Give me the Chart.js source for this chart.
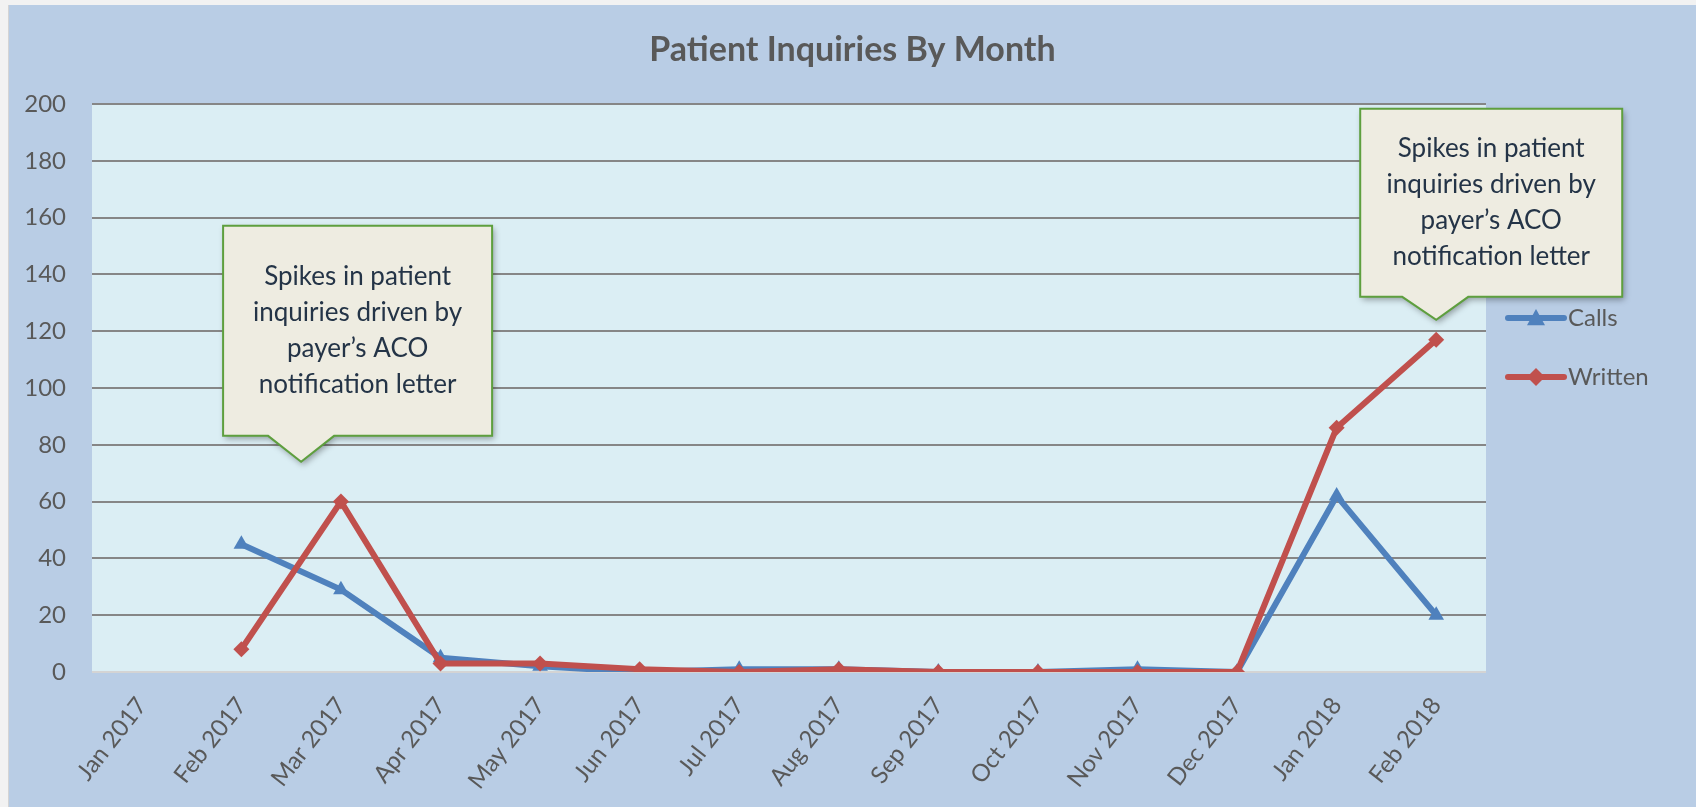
<!DOCTYPE html>
<html>
<head>
<meta charset="utf-8">
<script src="https://cdn.jsdelivr.net/npm/chart.js@4"></script>
<style>
  html, body { margin: 0; padding: 0; background: #f2f2f2; }
  #wrap {
    position: absolute; left: 8px; top: 5px;
    width: 1688px; height: 802px;
    background: #B9CDE5;
    border-left: 1px solid #d4d4d4;
    box-sizing: border-box;
  }
</style>
</head>
<body>
<div id="wrap"><canvas id="inquiryChart"></canvas></div>
<script>
// values
const months = ['Jan 2017', 'Feb 2017', 'Mar 2017', 'Apr 2017', 'May 2017', 'Jun 2017', 'Jul 2017',
  'Aug 2017', 'Sep 2017', 'Oct 2017', 'Nov 2017', 'Dec 2017', 'Jan 2018', 'Feb 2018'];
const calls = [null, 45, 29, 5, 2, 0, 1, 1, 0, 0, 1, 0, 62, 20];
const written = [null, 8, 60, 3, 3, 1, 0, 1, 0, 0, 0, 0, 86, 117];

const chartTitle = 'Patient Inquiries By Month';
const calloutText = ['Spikes in patient', 'inquiries driven by', 'payer\u2019s ACO', 'notification letter'];
// where each callout points: category index and value
const callouts = [
  { index: 1.6, value: 74, left: -78, right: 191, top: -236, bottom: -26, baseL: -33, baseR: 33 },
  { index: 13, value: 124, left: -76, right: 186, top: -211, bottom: -23, baseL: -34, baseR: 32 }
];

const plotBg = {
  id: 'plotBg',
  beforeDraw(chart) {
    const { ctx, chartArea: a } = chart;
    ctx.save();
    ctx.fillStyle = '#DBEEF4';
    ctx.fillRect(a.left, a.top, a.right - a.left, a.bottom - a.top);
    ctx.restore();
  }
};

// title centred on the whole canvas (the built-in one is centred inside the layout padding)
const pageTitle = {
  id: 'pageTitle',
  afterDraw(chart) {
    const { ctx } = chart;
    ctx.save();
    ctx.fillStyle = '#595959';
    ctx.font = 'bold 34px Lato';
    ctx.textAlign = 'center';
    ctx.textBaseline = 'middle';
    ctx.fillText(chartTitle, chart.width / 2, 45);
    ctx.restore();
  }
};

function drawMarker(ctx, style, x, y, r) {
  ctx.beginPath();
  if (style === 'triangle') {
    ctx.moveTo(x, y - r);
    ctx.lineTo(x + r, y + r * 0.8);
    ctx.lineTo(x - r, y + r * 0.8);
  } else {
    ctx.moveTo(x, y - r);
    ctx.lineTo(x + r, y);
    ctx.lineTo(x, y + r);
    ctx.lineTo(x - r, y);
  }
  ctx.closePath();
  ctx.fill();
}

const sideLegend = {
  id: 'sideLegend',
  afterDraw(chart) {
    const { ctx, chartArea: a } = chart;
    const rows = [chart.data.datasets[0], chart.data.datasets[1]];
    ctx.save();
    rows.forEach((ds, i) => {
      const y = a.top + 214 + i * 59;
      const x1 = a.right + 22, x2 = a.right + 78;
      ctx.strokeStyle = ds.borderColor;
      ctx.fillStyle = ds.borderColor;
      ctx.lineWidth = 6;
      ctx.lineCap = 'round';
      ctx.beginPath();
      ctx.moveTo(x1, y);
      ctx.lineTo(x2, y);
      ctx.stroke();
      drawMarker(ctx, ds.pointStyle, (x1 + x2) / 2, y, 9);
      ctx.fillStyle = '#595959';
      ctx.font = '24px Lato';
      ctx.textBaseline = 'middle';
      ctx.textAlign = 'left';
      ctx.fillText(ds.label, x2 + 4, y);
    });
    ctx.restore();
  }
};

const calloutBoxes = {
  id: 'calloutBoxes',
  afterDatasetsDraw(chart) {
    const { ctx } = chart;
    const xs = chart.scales.x, ys = chart.scales.y;
    callouts.forEach(c => {
      const tx = xs.getPixelForValue(c.index);
      const ty = ys.getPixelForValue(c.value);
      const L = tx + c.left, R = tx + c.right, T = ty + c.top, B = ty + c.bottom;
      ctx.save();
      ctx.beginPath();
      ctx.moveTo(L, T);
      ctx.lineTo(R, T);
      ctx.lineTo(R, B);
      ctx.lineTo(tx + c.baseR, B);
      ctx.lineTo(tx, ty);
      ctx.lineTo(tx + c.baseL, B);
      ctx.lineTo(L, B);
      ctx.closePath();
      ctx.shadowColor = 'rgba(0,0,0,0.35)';
      ctx.shadowBlur = 6;
      ctx.shadowOffsetX = 2;
      ctx.shadowOffsetY = 3;
      ctx.fillStyle = '#EEECE1';
      ctx.fill();
      ctx.shadowColor = 'transparent';
      ctx.strokeStyle = '#5E9F3E';
      ctx.lineWidth = 2;
      ctx.stroke();
      ctx.fillStyle = '#243447';
      ctx.font = '26px Lato';
      ctx.textAlign = 'center';
      ctx.textBaseline = 'middle';
      const cx = (L + R) / 2, cy = (T + B) / 2;
      const lh = 36;
      calloutText.forEach((line, i) => {
        ctx.fillText(line, cx, cy + (i - 1.5) * lh);
      });
      ctx.restore();
    });
  }
};

const ctx = document.getElementById('inquiryChart').getContext('2d');

new Chart(ctx, {
  type: 'line',
  data: {
    labels: months,
    datasets: [
      {
        label: 'Calls',
        data: calls,
        borderColor: '#4F81BD',
        backgroundColor: '#4F81BD',
        borderWidth: 6,
        pointStyle: 'triangle',
        pointRadius: 9,
        pointBorderWidth: 0,
        tension: 0,
        order: 1
      },
      {
        label: 'Written',
        data: written,
        borderColor: '#C0504D',
        backgroundColor: '#C0504D',
        borderWidth: 6,
        pointStyle: 'rectRot',
        pointRadius: 8,
        pointBorderWidth: 0,
        tension: 0,
        order: 0
      }
    ]
  },
  options: {
    responsive: true,
    maintainAspectRatio: false,
    animation: false,
    layout: { padding: { left: 0, right: 210, top: 99, bottom: 0 } },
    plugins: {
      legend: { display: false },
      tooltip: { enabled: false },
      title: { display: false }
    },
    scales: {
      x: {
        offset: true,
        grid: { display: false },
        border: { display: false },
        ticks: {
          color: '#595959',
          font: { family: 'Lato', size: 24 },
          minRotation: 52,
          maxRotation: 52,
          autoSkip: false,
          padding: 12
        },
        afterFit(scale) { scale.height = 135; }
      },
      y: {
        min: 0,
        max: 200,
        border: { display: false },
        grid: {
          drawTicks: false,
          lineWidth: 2,
          color: c => (c.tick && c.tick.value === 0 ? '#d4d4d4' : '#868686')
        },
        ticks: {
          stepSize: 20,
          color: '#595959',
          font: { family: 'Lato', size: 24 },
          padding: 26
        },
        afterFit(scale) { scale.width = 83; }
      }
    }
  },
  plugins: [plotBg, calloutBoxes, sideLegend, pageTitle]
});
</script>
</body>
</html>
